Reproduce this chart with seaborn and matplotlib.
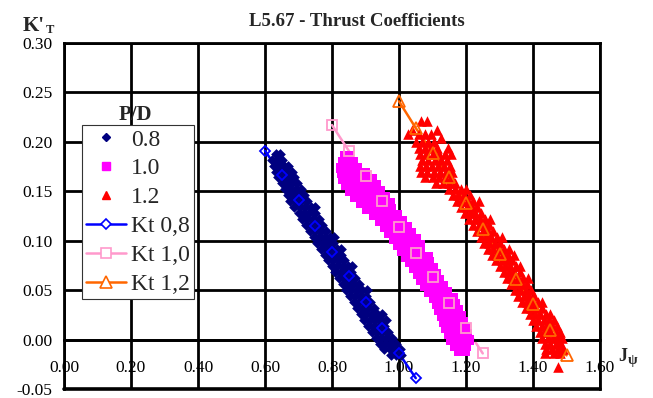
import matplotlib
matplotlib.use("Agg")
import matplotlib.pyplot as plt
from matplotlib.lines import Line2D
import numpy as np
import pandas as pd
import seaborn as sns

# ---- measured points, grouped by K'T level (one row of J values per level) ----
pd08_k_levels = [0.188, 0.182, 0.176, 0.170, 0.164, 0.158, 0.152, 0.146, 0.140,
                 0.134, 0.128, 0.122, 0.116, 0.110, 0.104, 0.098, 0.092, 0.086,
                 0.080, 0.074, 0.068, 0.062, 0.056, 0.050, 0.044, 0.038, 0.032,
                 0.026, 0.020, 0.014, 0.008, 0.002, -0.004, -0.010, -0.016]
pd08_j_rows = [
    [0.632, 0.645],
    [0.620, 0.636, 0.652],
    [0.626, 0.642, 0.658, 0.670],
    [0.632, 0.648, 0.664, 0.680],
    [0.640, 0.656, 0.672, 0.688],
    [0.650, 0.666, 0.682, 0.696],
    [0.660, 0.676, 0.692, 0.706],
    [0.668, 0.684, 0.700, 0.716],
    [0.676, 0.692, 0.708, 0.726],
    [0.688, 0.704, 0.720, 0.738, 0.750],
    [0.700, 0.716, 0.732, 0.750],
    [0.710, 0.726, 0.742, 0.760],
    [0.722, 0.738, 0.754, 0.770],
    [0.734, 0.750, 0.766, 0.782],
    [0.746, 0.762, 0.778, 0.794, 0.806],
    [0.756, 0.772, 0.788, 0.804],
    [0.766, 0.782, 0.798, 0.814, 0.826],
    [0.778, 0.794, 0.810, 0.826],
    [0.788, 0.804, 0.820, 0.836],
    [0.800, 0.816, 0.832, 0.848, 0.860],
    [0.810, 0.826, 0.842, 0.858],
    [0.822, 0.838, 0.854, 0.870],
    [0.832, 0.848, 0.864, 0.880],
    [0.842, 0.858, 0.874, 0.890, 0.904],
    [0.854, 0.870, 0.886, 0.902],
    [0.866, 0.882, 0.898, 0.914],
    [0.876, 0.892, 0.908, 0.924],
    [0.886, 0.902, 0.918, 0.934, 0.948],
    [0.896, 0.912, 0.928, 0.944, 0.960],
    [0.908, 0.924, 0.940, 0.956],
    [0.918, 0.934, 0.950, 0.966],
    [0.930, 0.946, 0.962, 0.978],
    [0.942, 0.958, 0.974, 0.990],
    [0.956, 0.972, 0.988, 1.004],
    [0.976, 0.992, 1.006],
]

pd10_k_levels = [0.186, 0.180, 0.174, 0.168, 0.162, 0.156, 0.150, 0.144, 0.138,
                 0.132, 0.126, 0.120, 0.114, 0.108, 0.102, 0.096, 0.090, 0.084,
                 0.078, 0.072, 0.066, 0.060, 0.054, 0.048, 0.042, 0.036, 0.030,
                 0.024, 0.018, 0.012, 0.006, 0.000, -0.006, -0.012]
pd10_j_rows = [
    [0.840, 0.852],
    [0.832, 0.846, 0.862],
    [0.828, 0.842, 0.858, 0.876],
    [0.830, 0.846, 0.862, 0.880, 0.898],
    [0.834, 0.850, 0.868, 0.886, 0.904, 0.920],
    [0.842, 0.858, 0.876, 0.894, 0.912, 0.930],
    [0.854, 0.872, 0.890, 0.908, 0.926, 0.944],
    [0.870, 0.888, 0.906, 0.924, 0.942, 0.958],
    [0.888, 0.906, 0.924, 0.942, 0.960, 0.972],
    [0.904, 0.922, 0.940, 0.958, 0.976],
    [0.924, 0.942, 0.960, 0.978, 0.994],
    [0.944, 0.962, 0.980, 0.998, 1.010],
    [0.958, 0.976, 0.994, 1.012, 1.024],
    [0.970, 0.988, 1.006, 1.024, 1.036],
    [0.984, 1.002, 1.020, 1.038, 1.050],
    [0.998, 1.016, 1.034, 1.052, 1.062],
    [1.010, 1.028, 1.046, 1.064],
    [1.020, 1.038, 1.056, 1.074, 1.086],
    [1.034, 1.052, 1.070, 1.090],
    [1.046, 1.064, 1.082, 1.100],
    [1.056, 1.074, 1.092, 1.110],
    [1.066, 1.084, 1.102, 1.120],
    [1.078, 1.096, 1.114, 1.132],
    [1.090, 1.108, 1.126, 1.144],
    [1.104, 1.122, 1.140, 1.160],
    [1.112, 1.130, 1.148, 1.168],
    [1.120, 1.138, 1.156, 1.176],
    [1.128, 1.146, 1.164, 1.184],
    [1.134, 1.152, 1.170, 1.190],
    [1.140, 1.158, 1.176, 1.196],
    [1.148, 1.166, 1.184, 1.202],
    [1.156, 1.174, 1.192, 1.210],
    [1.166, 1.184, 1.200],
    [1.180, 1.196],
]

pd12_k_levels = [0.221, 0.212, 0.208, 0.204, 0.200, 0.194, 0.188, 0.182, 0.176,
                 0.170, 0.164, 0.158, 0.152, 0.146, 0.140, 0.134, 0.128, 0.122,
                 0.116, 0.110, 0.104, 0.098, 0.092, 0.086, 0.080, 0.074, 0.068,
                 0.062, 0.056, 0.050, 0.044, 0.038, 0.032, 0.026, 0.020, 0.014,
                 0.008, 0.002, -0.004, -0.010, -0.014, -0.028]
pd12_j_rows = [
    [1.066, 1.085],
    [1.040, 1.112],
    [1.028, 1.060, 1.078, 1.095],
    [1.126],
    [1.052, 1.070, 1.088, 1.104],
    [1.060, 1.078, 1.096, 1.114, 1.146],
    [1.064, 1.082, 1.100, 1.118, 1.136, 1.154],
    [1.070, 1.088, 1.106, 1.124, 1.142],
    [1.062, 1.080, 1.098, 1.116, 1.134, 1.152],
    [1.066, 1.084, 1.104, 1.122, 1.140, 1.158],
    [1.078, 1.100, 1.120, 1.138, 1.156],
    [1.110, 1.130, 1.150, 1.168],
    [1.150, 1.166, 1.184, 1.200],
    [1.160, 1.176, 1.194, 1.212],
    [1.172, 1.188, 1.206, 1.222, 1.240],
    [1.186, 1.202, 1.218, 1.234],
    [1.196, 1.212, 1.228, 1.246],
    [1.210, 1.226, 1.242, 1.258, 1.272],
    [1.222, 1.238, 1.254, 1.270],
    [1.234, 1.250, 1.266, 1.282],
    [1.244, 1.260, 1.276, 1.292, 1.306],
    [1.254, 1.270, 1.286, 1.302],
    [1.266, 1.282, 1.298, 1.314, 1.328],
    [1.278, 1.294, 1.310, 1.326, 1.342],
    [1.290, 1.306, 1.322, 1.338],
    [1.300, 1.316, 1.332, 1.348, 1.362],
    [1.312, 1.328, 1.344, 1.360],
    [1.322, 1.338, 1.354, 1.370, 1.384],
    [1.334, 1.350, 1.366, 1.382],
    [1.346, 1.362, 1.378, 1.394],
    [1.356, 1.372, 1.388, 1.404],
    [1.366, 1.382, 1.398, 1.414, 1.428],
    [1.378, 1.394, 1.410, 1.426],
    [1.390, 1.406, 1.422, 1.438, 1.452],
    [1.400, 1.416, 1.432, 1.448, 1.462],
    [1.410, 1.426, 1.442, 1.458, 1.472],
    [1.420, 1.436, 1.452, 1.468, 1.480],
    [1.428, 1.444, 1.460, 1.476, 1.488],
    [1.436, 1.452, 1.468, 1.484],
    [1.440, 1.458, 1.474, 1.490],
    [1.436, 1.462, 1.480],
    [1.474],
]

# ---- fitted Kt curves ----
kt08_j = [0.60, 0.65, 0.70, 0.75, 0.80, 0.85, 0.90, 0.95, 1.00, 1.05]
kt08_k = [0.191, 0.166, 0.141, 0.115, 0.089, 0.064, 0.038, 0.012, -0.014, -0.039]
kt10_j = [0.80, 0.85, 0.90, 0.95, 1.00, 1.05, 1.10, 1.15, 1.20, 1.25]
kt10_k = [0.217, 0.191, 0.165, 0.140, 0.114, 0.088, 0.063, 0.037, 0.012, -0.014]
kt12_j = [1.00, 1.05, 1.10, 1.15, 1.20, 1.25, 1.30, 1.35, 1.40, 1.45, 1.50]
kt12_k = [0.241, 0.214, 0.189, 0.164, 0.138, 0.112, 0.087, 0.061, 0.036, 0.010, -0.016]

x_ticks = [0.0, 0.2, 0.4, 0.6, 0.8, 1.0, 1.2, 1.4, 1.6]
y_ticks = [-0.05, 0.0, 0.05, 0.10, 0.15, 0.20, 0.25, 0.30]


def expand(levels, rows):
    j, k = [], []
    for kv, js in zip(levels, rows):
        j.extend(js)
        k.extend([kv] * len(js))
    return j, k


pd08_j, pd08_k = expand(pd08_k_levels, pd08_j_rows)
pd10_j, pd10_k = expand(pd10_k_levels, pd10_j_rows)
pd12_j, pd12_k = expand(pd12_k_levels, pd12_j_rows)

sns.set_style("white")
plt.rcParams["font.family"] = ["Liberation Serif", "DejaVu Serif"]
plt.rcParams["axes.unicode_minus"] = False

fig = plt.figure(figsize=(6.53, 3.98), dpi=100)
ax = fig.add_axes([64 / 653, 9 / 398, 536 / 653, 346 / 398])

NAVY, MAGENTA, RED = "#000080", "#FF00FF", "#FF0000"
BLUE, PINK, ORANGE = "#0000FF", "#FF99CC", "#FF6600"

kt_series = [(kt08_j, kt08_k, BLUE, "D", 5.2),
             (kt10_j, kt10_k, PINK, "s", 7.0),
             (kt12_j, kt12_k, ORANGE, "^", 8.2)]

# curve lines sit underneath all markers
for xs, ys, col, mk, ms in kt_series:
    sns.lineplot(x=xs, y=ys, color=col, lw=1.8, sort=False, estimator=None,
                 ax=ax, zorder=2)

sns.scatterplot(x=pd08_j, y=pd08_k, marker="D", color=NAVY, s=30,
                linewidth=0, ax=ax, zorder=3)
sns.scatterplot(x=pd10_j, y=pd10_k, marker="s", color=MAGENTA, s=46,
                linewidth=0, ax=ax, zorder=3)
sns.scatterplot(x=pd12_j, y=pd12_k, marker="^", color=RED, s=58,
                linewidth=0, ax=ax, zorder=3)

# open curve markers on top of the measured points
for xs, ys, col, mk, ms in kt_series:
    sns.lineplot(x=xs, y=ys, color=col, lw=0, sort=False, estimator=None,
                 marker=mk, markersize=ms, markerfacecolor="none",
                 markeredgecolor=col, markeredgewidth=1.3, ax=ax, zorder=4)

ax.set_xlim(0, 1.6)
ax.set_ylim(-0.05, 0.30)
ax.set_xticks(x_ticks)
ax.set_xticklabels([f"{v:.2f}" for v in x_ticks])
ax.set_yticks(y_ticks)
ax.set_yticklabels([f"{v:.2f}" for v in y_ticks])
ax.set_xlabel("")
ax.set_ylabel("")

ax.set_axisbelow(True)
ax.grid(True, color="black", lw=2.0)
for side in ["top", "right", "left", "bottom"]:
    ax.spines[side].set_color("black")
    ax.spines[side].set_linewidth(2.0)
ax.spines["bottom"].set_position(("data", 0))
ax.axhline(-0.05, color="black", lw=2.6, clip_on=False, zorder=1)

ax.tick_params(axis="x", length=0, pad=15, labelsize=12.5, colors="black")
ax.tick_params(axis="y", direction="out", length=3.6, width=2, pad=4.8,
               labelsize=12.5, colors="black")

handles = [
    Line2D([], [], ls="none", marker="D", color=NAVY, markersize=4.4),
    Line2D([], [], ls="none", marker="s", color=MAGENTA, markersize=5.2),
    Line2D([], [], ls="none", marker="^", color=RED, markersize=6.2),
    Line2D([], [], color=BLUE, lw=1.8, marker="D", markersize=5.2,
           markerfacecolor="white", markeredgecolor=BLUE, markeredgewidth=1.2),
    Line2D([], [], color=PINK, lw=1.8, marker="s", markersize=7.0,
           markerfacecolor="white", markeredgecolor=PINK, markeredgewidth=1.2),
    Line2D([], [], color=ORANGE, lw=1.8, marker="^", markersize=8.2,
           markerfacecolor="white", markeredgecolor=ORANGE, markeredgewidth=1.2),
]
labels = ["0.8", "1.0", "1.2", "Kt 0,8", "Kt 1,0", "Kt 1,2"]
leg = ax.legend(handles, labels, loc="upper left",
                bbox_to_anchor=((82 - 64) / 536, 1 - (125 - 43) / 346),
                borderaxespad=0, frameon=True, fancybox=False, fontsize=17,
                handlelength=1.7, handletextpad=0.21, labelspacing=0.31,
                borderpad=0.17, framealpha=1)
leg.get_frame().set_edgecolor("#333333")
leg.get_frame().set_linewidth(0.8)
leg.set_zorder(6)

fig.text(357 / 653, 1 - 26 / 398, "L5.67 - Thrust Coefficients",
         ha="center", va="baseline", fontsize=13.5, fontweight="bold")
fig.text(23 / 653, 1 - 31 / 398, "K'", ha="left", va="baseline",
         fontsize=15, fontweight="bold")
fig.text(46 / 653, 1 - 33 / 398, "T", ha="left", va="baseline",
         fontsize=9, fontweight="bold")
fig.text(618 / 653, 1 - 361 / 398, "J", ha="left", va="baseline",
         fontsize=13, fontweight="bold")
fig.text(628 / 653, 1 - 364 / 398, "ψ", ha="left", va="baseline",
         fontsize=10, fontweight="bold")
fig.text(135 / 653, 1 - 120 / 398, "P/D", ha="center", va="baseline",
         fontsize=15, fontweight="bold")

fig.savefig("out.png", dpi=100)
